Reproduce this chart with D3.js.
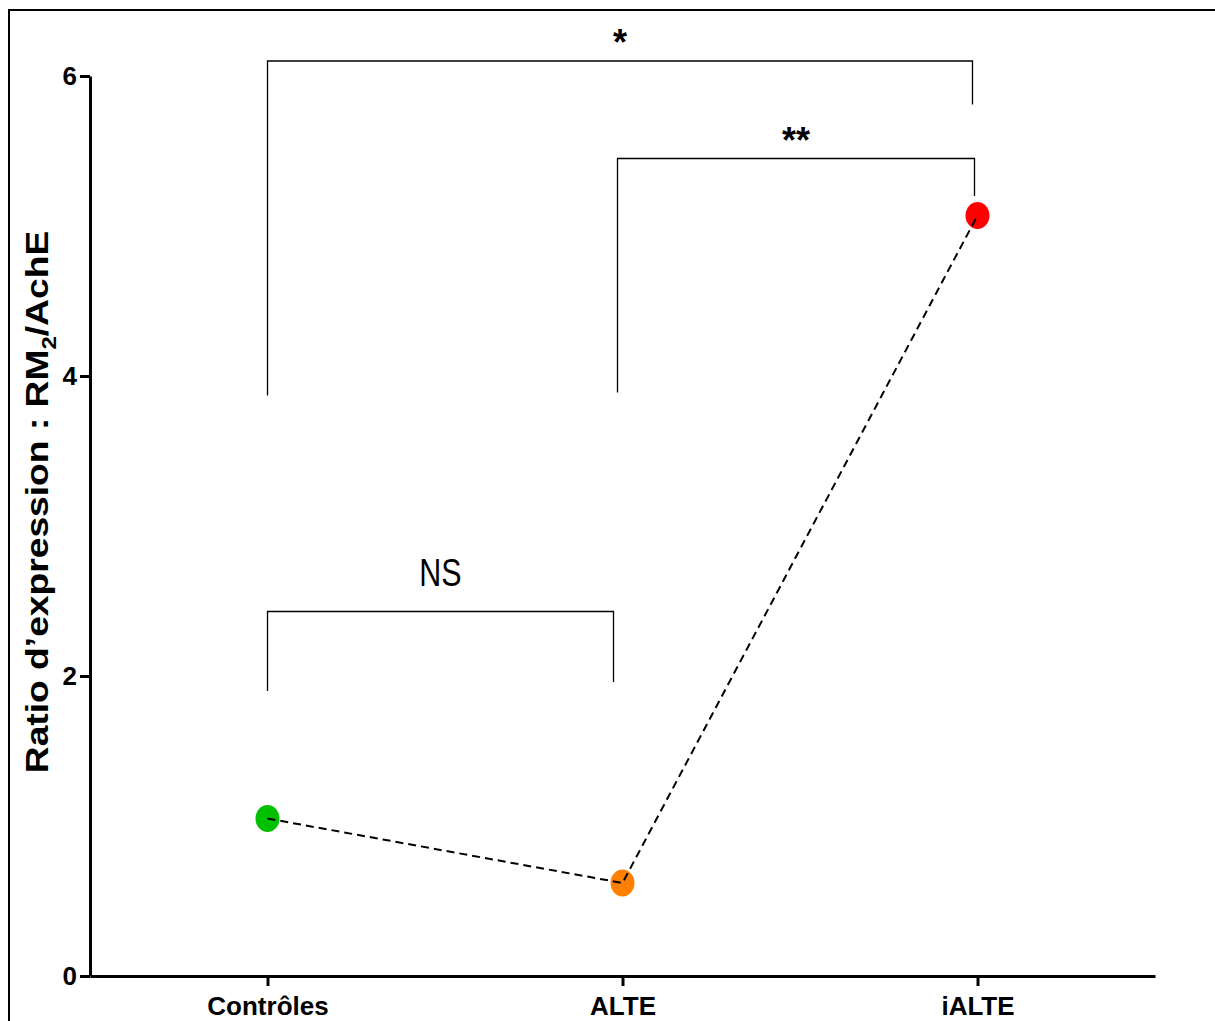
<!DOCTYPE html>
<html><head><meta charset="utf-8">
<script src="https://cdn.jsdelivr.net/npm/d3@7"></script>
<style>html,body{margin:0;padding:0;background:#fff;}svg{display:block;}</style>
</head><body>
<script>
const categories = ["Contrôles", "ALTE", "iALTE"];
const values = [1.05, 0.62, 5.07];
const colors = ["#00c000", "#ff8000", "#ff0000"];
const yTicks = [0, 2, 4, 6];
// brackets: from/to category index, left leg bottom, top, right leg bottom (data units), label
const brackets = [
  {a: 0, b: 2, left: 3.87, top: 6.1, right: 5.81, label: "*"},
  {a: 1, b: 2, left: 3.89, top: 5.45, right: 5.2, label: "**"},
  {a: 0, b: 1, left: 1.9, top: 2.43, right: 1.96, label: "NS"}
];

const W = 1215, H = 1021;
const svg = d3.select("body").append("svg").attr("width", W).attr("height", H);
svg.append("rect").attr("x", 9).attr("y", 10).attr("width", 1230).attr("height", 1040)
  .attr("fill", "none").attr("stroke", "#000").attr("stroke-width", 2);

const x = d3.scalePoint().domain(categories).range([90, 1155]).padding(0.5);
const y = d3.scaleLinear().domain([0, 6]).range([976, 76]);

const font = "'Liberation Sans', Arial, sans-serif";

// Y axis
const ya = svg.append("g").attr("transform", "translate(90,0)")
  .call(d3.axisLeft(y).tickValues(yTicks).tickFormat(d3.format("d")).tickSize(10).tickSizeOuter(0).tickPadding(3));
ya.select(".domain").attr("stroke-width", 3);
ya.selectAll(".tick line").attr("stroke-width", 3);
ya.selectAll(".tick text").attr("font-family", font).attr("font-weight", "bold").attr("font-size", 26).attr("fill", "#000");

// X axis
const xa = svg.append("g").attr("transform", "translate(0,976)")
  .call(d3.axisBottom(x).tickSize(10).tickSizeOuter(0).tickPadding(11));
xa.select(".domain").attr("stroke-width", 3);
xa.selectAll(".tick line").attr("stroke-width", 3);
xa.selectAll(".tick text").attr("font-family", font).attr("font-weight", "bold").attr("font-size", 26).attr("fill", "#000");

// Y title
const yt = svg.append("text").attr("transform", "translate(48,502) rotate(-90) scale(1.2,1)")
  .attr("text-anchor", "middle").attr("font-family", font).attr("font-weight", "bold").attr("font-size", 31);
yt.append("tspan").text("Ratio d’expression : RM");
yt.append("tspan").attr("font-size", 20).attr("dy", 8).text("2");
yt.append("tspan").attr("dy", -8).text("/AchE");

// Brackets
brackets.forEach(br => {
  const xa_ = x(categories[br.a]), xb = x(categories[br.b]);
  const dxa = br.a === 1 ? -5 : 0, dxb = br.b === 1 ? -9 : (br.a === 1 ? -3 : -5);
  svg.append("path")
    .attr("d", `M${xa_ + dxa},${y(br.left)}V${y(br.top)}H${xb + dxb}V${y(br.right)}`)
    .attr("fill", "none").attr("stroke", "#000").attr("stroke-width", 1.3);
  const isNS = br.label === "NS";
  const cx = (xa_ + dxa + xb + dxb) / 2;
  svg.append("text").attr("x", cx).attr("y", y(br.top) - (isNS ? 25 : 6))
    .attr("text-anchor", "middle").attr("font-family", font)
    .attr("font-size", isNS ? 39 : 36).attr("font-weight", isNS ? "normal" : "bold")
    .attr("transform", isNS ? `translate(${cx},0) scale(0.78,1) translate(${-cx},0)` : null)
    .text(br.label);
});

// Points
svg.selectAll("ellipse.pt").data(categories).enter().append("ellipse")
  .attr("cx", d => x(d)).attr("cy", (d, i) => y(values[i]))
  .attr("rx", 12).attr("ry", 13.5).attr("fill", (d, i) => colors[i]);

// Dashed line (drawn over the points)
const pts = categories.map((c, i) => [x(c), y(values[i])]);
svg.append("path").attr("d", d3.line()(pts)).attr("fill", "none")
  .attr("stroke", "#000").attr("stroke-width", 2).attr("stroke-dasharray", "8,5");
</script>
</body></html>
